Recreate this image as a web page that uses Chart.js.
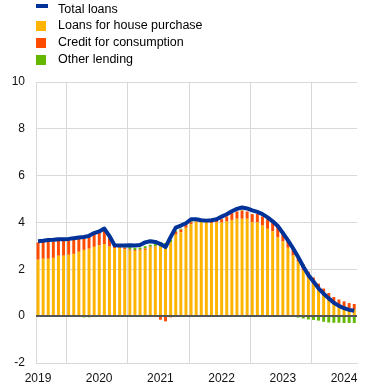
<!DOCTYPE html>
<html><head><meta charset="utf-8">
<script src="https://cdn.jsdelivr.net/npm/chart.js@4.4.0/dist/chart.umd.min.js"></script>
<style>
html,body{margin:0;padding:0;background:#fff;}
#wrap{position:relative;width:370px;height:388px;overflow:hidden;}
canvas{position:absolute;left:0;top:0;}
.lg{position:absolute;left:58px;font:12.5px "Liberation Sans",Arial,sans-serif;line-height:14px;color:#000;white-space:nowrap;}
.mk{position:absolute;left:36px;}
</style></head>
<body><div id="wrap">
<canvas id="c" width="370" height="388"></canvas>
<div class="mk" style="top:4px;width:12px;height:4px;background:#003299"></div>
<div class="lg" style="top:1.5px">Total loans</div>
<div class="mk" style="top:21px;width:10px;height:10px;background:#ffb400"></div>
<div class="lg" style="top:18px">Loans for house purchase</div>
<div class="mk" style="top:38px;width:10px;height:10px;background:#ff4b00"></div>
<div class="lg" style="top:34.5px">Credit for consumption</div>
<div class="mk" style="top:55px;width:10px;height:10px;background:#65b800"></div>
<div class="lg" style="top:51.5px">Other lending</div>
</div>
<script>
const months = [
 "2019-01","2019-02","2019-03","2019-04","2019-05","2019-06","2019-07","2019-08","2019-09","2019-10","2019-11","2019-12",
 "2020-01","2020-02","2020-03","2020-04","2020-05","2020-06","2020-07","2020-08","2020-09","2020-10","2020-11","2020-12",
 "2021-01","2021-02","2021-03","2021-04","2021-05","2021-06","2021-07","2021-08","2021-09","2021-10","2021-11","2021-12",
 "2022-01","2022-02","2022-03","2022-04","2022-05","2022-06","2022-07","2022-08","2022-09","2022-10","2022-11","2022-12",
 "2023-01","2023-02","2023-03","2023-04","2023-05","2023-06","2023-07","2023-08","2023-09","2023-10","2023-11","2023-12",
 "2024-01","2024-02","2024-03"];
const housePurchase = [
 2.41,2.45,2.45,2.49,2.58,2.58,2.62,2.66,2.75,2.83,2.88,2.96,
 3.02,3.08,2.97,2.90,2.92,2.85,2.80,2.78,2.80,2.83,2.93,2.97,
 2.97,2.93,3.15,3.48,3.58,3.77,3.93,4.04,4.04,4.02,3.97,4.00,
 4.00,4.04,4.11,4.16,4.16,4.16,4.01,4.00,3.87,3.73,3.62,3.36,
 3.19,2.92,2.59,2.33,1.95,1.64,1.38,1.13,0.93,0.75,0.58,0.47,
 0.39,0.33,0.30];
const consumption = [
 0.74,0.72,0.74,0.71,0.65,0.65,0.63,0.63,0.55,0.50,0.51,0.53,
 0.55,0.60,0.42,0.10,0.06,0.08,0.05,0.04,0.05,0.06,0.04,0.03,
 -0.15,-0.22,-0.05,0.12,0.12,0.12,0.08,0.04,0.02,0.03,0.08,0.10,
 0.14,0.22,0.29,0.31,0.35,0.31,0.35,0.36,0.39,0.41,0.39,0.47,
 0.40,0.30,0.30,0.24,0.27,0.26,0.27,0.26,0.25,0.24,0.24,0.24,
 0.24,0.23,0.22];
const otherLending = [
 0,0,0,0,0,0,0,0,0,-0.05,-0.05,0,
 0,0,0,0,0.02,0.04,0.10,0.10,0.08,0.10,0.08,0.12,
 0.20,0.20,0.10,0.05,0.04,0.03,0.05,0.03,0,0,0,0,
 0,0,0,0,0.02,0,0,0,0,0,0,0,
 0,0,-0.02,-0.06,-0.10,-0.14,-0.16,-0.19,-0.24,-0.27,-0.28,-0.28,
 -0.29,-0.29,-0.29];
const totalLoans = [
 3.20,3.22,3.25,3.26,3.28,3.28,3.30,3.33,3.36,3.38,3.43,3.55,
 3.62,3.74,3.42,3.03,3.02,3.02,3.03,3.02,3.04,3.15,3.20,3.17,
 3.08,2.95,3.38,3.78,3.87,3.97,4.14,4.14,4.10,4.08,4.10,4.14,
 4.25,4.35,4.48,4.58,4.64,4.60,4.52,4.45,4.36,4.22,4.05,3.85,
 3.55,3.24,2.90,2.53,2.12,1.76,1.48,1.19,0.96,0.76,0.57,0.44,
 0.34,0.27,0.23];
const yearTicks = [2019,2020,2021,2022,2023,2024];

const FONT = {family:'"Liberation Sans", Arial, sans-serif', size:12};
const toX = m => { const [y, mo] = m.split('-').map(Number); return y + (mo - 1 + 0.4) / 12; };
const pts = arr => arr.map((v, i) => ({x: toX(months[i]), y: v}));

const zeroLine = {
  id: 'zeroLine',
  afterDatasetsDraw(chart) {
    const {ctx, chartArea, scales} = chart;
    const y = Math.round(scales.y.getPixelForValue(0));
    ctx.save();
    ctx.strokeStyle = '#555555';
    ctx.lineWidth = 2;
    ctx.beginPath();
    ctx.moveTo(chartArea.left, y);
    ctx.lineTo(chartArea.right, y);
    ctx.stroke();
    ctx.restore();
  }
};

new Chart(document.getElementById('c'), {
  type: 'bar',
  data: {
    datasets: [
      {type:'line', label:'Total loans', data:pts(totalLoans), borderColor:'#003299', backgroundColor:'#003299',
       borderWidth:4, pointRadius:0, tension:0, stack:'line', order:0, borderJoinStyle:'round'},
      {label:'Loans for house purchase', data:pts(housePurchase), backgroundColor:'#ffb400', stack:'bars', order:1},
      {label:'Credit for consumption', data:pts(consumption), backgroundColor:'#ff4b00', stack:'bars', order:1},
      {label:'Other lending', data:pts(otherLending), backgroundColor:'#65b800', stack:'bars', order:1}
    ]
  },
  options: {
    responsive:false, animation:false, devicePixelRatio:1,
    barPercentage:0.58, categoryPercentage:1.0,
    layout:{padding:{left:0, right:13, top:82, bottom:0}},
    plugins:{legend:{display:false}, tooltip:{enabled:false}},
    scales:{
      x:{type:'linear', min:2019, max:2024.245, stacked:true, offset:false,
         grid:{color:'#d9d9d9', drawTicks:false, lineWidth:1},
         border:{color:'#d9d9d9'},
         afterBuildTicks: s => { s.ticks = yearTicks.map(v => ({value:v})); },
         ticks:{autoSkip:false, maxRotation:0, padding:8, labelOffset:2, color:'#111', font:FONT,
                callback: v => String(v)},
         afterFit: s => { s.height = 25; }},
      y:{stacked:true, min:-2, max:10,
         grid:{color:'#d9d9d9', drawTicks:false, lineWidth:1},
         border:{color:'#d9d9d9'},
         ticks:{stepSize:2, padding:11, color:'#111', font:FONT},
         afterFit: s => { s.width = 36; }}
    }
  },
  plugins:[zeroLine]
});
</script>
</body></html>
